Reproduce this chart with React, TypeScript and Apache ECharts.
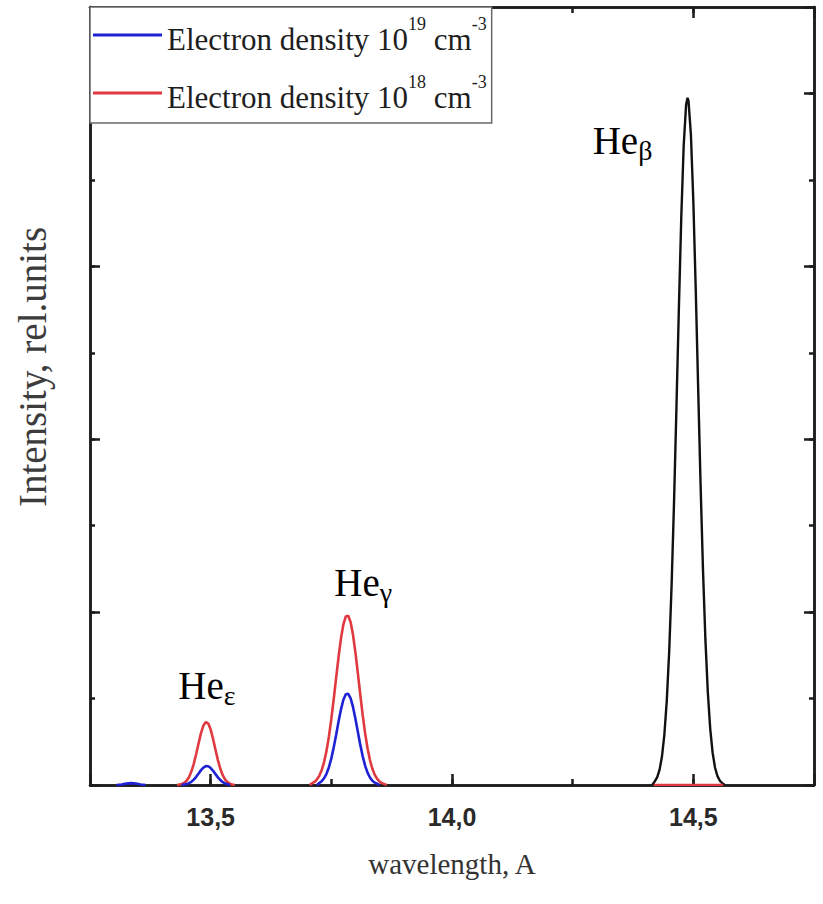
import React, { useEffect, useRef } from "react";
import * as echarts from "echarts";

// Wavelengths in Å, intensities in relative units.
const NAME_19 = "Electron density 10^19 cm^-3";
const NAME_18 = "Electron density 10^18 cm^-3";

// He-epsilon line
const EPS_X_18 = [
  13.43, 13.435, 13.44, 13.445, 13.45, 13.455, 13.46, 13.465, 13.47, 13.475, 13.48, 13.485, 13.49,
  13.495, 13.5, 13.505, 13.51, 13.515, 13.52, 13.525, 13.53, 13.535, 13.54, 13.545, 13.55,
];
const EPS_Y_18 = [
  0, 0.005, 0.011, 0.024, 0.049, 0.09, 0.155, 0.245, 0.358, 0.483, 0.601, 0.689, 0.729,
  0.711, 0.641, 0.532, 0.408, 0.288, 0.188, 0.113, 0.063, 0.032, 0.015, 0.007, 0,
];
const EPS_X_19 = [
  13.44, 13.445, 13.45, 13.455, 13.46, 13.465, 13.47, 13.475, 13.48, 13.485, 13.49, 13.495, 13.5,
  13.505, 13.51, 13.515, 13.52, 13.525, 13.53, 13.535, 13.54,
];
const EPS_Y_19 = [
  0, 0.005, 0.01, 0.021, 0.037, 0.062, 0.095, 0.133, 0.172, 0.202, 0.218, 0.217, 0.197,
  0.164, 0.126, 0.088, 0.057, 0.033, 0.018, 0.009, 0,
];

// weak feature near 13.34 Å (high density only)
const WEAK_X_19 = [13.305, 13.315, 13.325, 13.335, 13.345, 13.355, 13.365];
const WEAK_Y_19 = [0, 0.006, 0.016, 0.022, 0.017, 0.006, 0];

// He-gamma line
const GAM_X_18 = [
  13.705, 13.71, 13.715, 13.72, 13.725, 13.73, 13.735, 13.74, 13.745, 13.75, 13.755, 13.76, 13.765,
  13.77, 13.775, 13.78, 13.785, 13.79, 13.795, 13.8, 13.805, 13.81, 13.815, 13.82, 13.825, 13.83,
  13.835, 13.84, 13.845, 13.85, 13.855, 13.86, 13.865,
];
const GAM_Y_18 = [
  0, 0.019, 0.035, 0.063, 0.106, 0.172, 0.266, 0.395, 0.561, 0.764, 0.995, 1.241, 1.483,
  1.697, 1.859, 1.95, 1.958, 1.883, 1.734, 1.529, 1.291, 1.044, 0.808, 0.599, 0.425, 0.289,
  0.188, 0.117, 0.07, 0.04, 0.022, 0.01, 0,
];
const GAM_X_19 = [
  13.72, 13.725, 13.73, 13.735, 13.74, 13.745, 13.75, 13.755, 13.76, 13.765, 13.77, 13.775, 13.78,
  13.785, 13.79, 13.795, 13.8, 13.805, 13.81, 13.815, 13.82, 13.825, 13.83, 13.835, 13.84, 13.845,
  13.85,
];
const GAM_Y_19 = [
  0, 0.023, 0.044, 0.078, 0.13, 0.206, 0.308, 0.436, 0.582, 0.734, 0.875, 0.986, 1.049,
  1.055, 1.003, 0.9, 0.764, 0.612, 0.464, 0.332, 0.225, 0.143, 0.087, 0.049, 0.027, 0.014,
  0,
];

// He-beta line
const BETA_X = [
  14.415, 14.42, 14.425, 14.43, 14.435, 14.44, 14.445, 14.45, 14.455, 14.46, 14.465, 14.47, 14.475,
  14.48, 14.485, 14.488, 14.49, 14.495, 14.5, 14.505, 14.51, 14.515, 14.52, 14.525, 14.53, 14.535,
  14.54, 14.545, 14.55, 14.555, 14.56, 14.565,
];
const BETA_Y = [
  0, 0.042, 0.088, 0.175, 0.329, 0.584, 0.977, 1.547, 2.313, 3.268, 4.364, 5.506, 6.563,
  7.393, 7.869, 7.95, 7.914, 7.52, 6.752, 5.729, 4.593, 3.479, 2.49, 1.684, 1.076, 0.65,
  0.371, 0.2, 0.102, 0.049, 0.022, 0,
];
const BETA_X_18 = [14.418, 14.562];
const BETA_Y_18 = [0, 0];

// axis ranges
const X_MIN = 13.25;
const X_MAX = 14.75;
const Y_MIN = 0;
const Y_MAX = 9;

const BLACK = "#111111";
const RED = "#e03a40";
const BLUE = "#1e22d4";
const AXIS = "#1c1c1c";
const SERIF = "'Liberation Serif', 'Times New Roman', serif";
const SANS = "'Liberation Sans', Arial, sans-serif";

const pairs = (xs: number[], ys: number[]) => xs.map((x, i) => [x, ys[i]]);

const peakOf = (xs: number[], ys: number[]) => {
  let k = 0;
  ys.forEach((v, i) => {
    if (v > ys[k]) k = i;
  });
  return [xs[k], ys[k]];
};

const peakLabel = (xs: number[], ys: number[], text: string, offset: number[]) => ({
  symbol: "rect",
  symbolSize: 1,
  itemStyle: { color: "transparent" },
  silent: true,
  data: [
    {
      coord: peakOf(xs, ys),
      label: {
        show: true,
        position: "inside",
        offset,
        formatter: text,
        rich: {
          h: { fontFamily: SERIF, fontSize: 39, lineHeight: 44, color: "#000", verticalAlign: "top" },
          s: { fontFamily: SERIF, fontSize: 28, lineHeight: 18, color: "#000", verticalAlign: "bottom" },
        },
      },
    },
  ],
});

export default function App() {
  const ref = useRef<HTMLDivElement>(null);

  useEffect(() => {
    const chart = echarts.init(ref.current!, null, { renderer: "svg" });

    const line = { show: true, onZero: false, lineStyle: { color: AXIS, width: 2.5 } };
    const tick = (len: number) => ({
      show: true,
      inside: true,
      length: len,
      lineStyle: { color: AXIS, width: 2.5 },
    });

    const xMinor = (pos: string) => ({
      type: "value",
      position: pos,
      min: X_MIN,
      max: X_MAX,
      interval: 0.25,
      axisLine: line,
      axisTick: tick(6),
      axisLabel: { show: false },
      splitLine: { show: false },
    });
    const xMajor = (pos: string, labels: boolean) => ({
      type: "value",
      position: pos,
      min: X_MIN,
      max: X_MAX,
      splitNumber: 3,
      axisLine: line,
      axisTick: tick(11),
      axisLabel: {
        show: labels,
        margin: 19,
        fontFamily: SANS,
        fontWeight: "bold",
        fontSize: 25,
        color: "#2a2a2a",
        formatter: (v: number) =>
          Math.abs(v * 2 - Math.round(v * 2)) < 1e-6 ? v.toFixed(1).replace(".", ",") : "",
      },
      splitLine: { show: false },
    });
    const yAxisOf = (pos: string, interval: number, len: number) => ({
      type: "value",
      position: pos,
      min: Y_MIN,
      max: Y_MAX,
      interval,
      axisLine: line,
      axisTick: tick(len),
      axisLabel: { show: false },
      splitLine: { show: false },
    });

    const seg = (name: string, color: string, xs: number[], ys: number[], extra: any = {}) => ({
      type: "line",
      name,
      data: pairs(xs, ys),
      xAxisIndex: 0,
      yAxisIndex: 0,
      symbol: "none",
      showSymbol: false,
      smooth: false,
      legendIcon: "rect",
      lineStyle: { color, width: 2.6 },
      itemStyle: { color },
      ...extra,
    });

    const legendRich = {
      t: { fontFamily: SERIF, fontSize: 31, lineHeight: 40, color: "#1e1e1e", verticalAlign: "bottom" },
      s: { fontFamily: SERIF, fontSize: 18, lineHeight: 22, color: "#1e1e1e", verticalAlign: "top" },
    };

    chart.setOption({
      animation: false,
      backgroundColor: "#ffffff",
      grid: { left: 90, right: 9, top: 7, bottom: 119, containLabel: false },
      xAxis: [
        {
          ...xMinor("bottom"),
          name: "wavelength, A",
          nameLocation: "middle",
          nameGap: 64,
          nameTextStyle: { fontFamily: SERIF, fontSize: 29, color: "#333" },
        },
        xMajor("bottom", true),
        xMinor("top"),
        xMajor("top", false),
      ],
      yAxis: [
        {
          ...yAxisOf("left", 1, 5),
          name: "Intensity, rel.units",
          nameLocation: "middle",
          nameGap: 38,
          nameRotate: 90,
          nameTextStyle: { fontFamily: SERIF, fontSize: 39, color: "#3c3c3c", padding: [0, 0, 0, 58] },
        },
        yAxisOf("left", 2, 10),
        yAxisOf("right", 1, 5),
        yAxisOf("right", 2, 10),
      ],
      legend: {
        data: [NAME_19, NAME_18],
        orient: "vertical",
        left: 90,
        top: 7,
        padding: [8, 5, 10, 3],
        itemGap: 18,
        itemWidth: 69,
        itemHeight: 3,
        icon: "rect",
        backgroundColor: "#ffffff",
        borderColor: "#6a6a6a",
        borderWidth: 1.5,
        selectedMode: false,
        formatter: (name: string) =>
          name === NAME_19
            ? "{t|Electron density 10}{s|19}{t| cm}{s|-3}"
            : "{t|Electron density 10}{s|18}{t| cm}{s|-3}",
        textStyle: { rich: legendRich },
      },
      series: [
        seg("He beta", BLACK, BETA_X, BETA_Y, {
          lineStyle: { color: BLACK, width: 2.4 },
          markPoint: peakLabel(BETA_X, BETA_Y, "{h|He}{s|β}", [-65, 45]),
        }),
        seg(NAME_18, RED, BETA_X_18, BETA_Y_18),
        seg(NAME_18, RED, EPS_X_18, EPS_Y_18, {
          markPoint: peakLabel(EPS_X_18, EPS_Y_18, "{h|He}{s|ε}", [1, -34]),
        }),
        seg(NAME_18, RED, GAM_X_18, GAM_Y_18, {
          markPoint: peakLabel(GAM_X_18, GAM_Y_18, "{h|He}{s|γ}", [15, -31]),
        }),
        seg(NAME_19, BLUE, WEAK_X_19, WEAK_Y_19),
        seg(NAME_19, BLUE, EPS_X_19, EPS_Y_19),
        seg(NAME_19, BLUE, GAM_X_19, GAM_Y_19),
      ],
    });

    return () => chart.dispose();
  }, []);

  return (
    <div
      ref={ref}
      style={{ position: "fixed", left: 0, top: 0, width: 823, height: 904, background: "#fff" }}
    />
  );
}
